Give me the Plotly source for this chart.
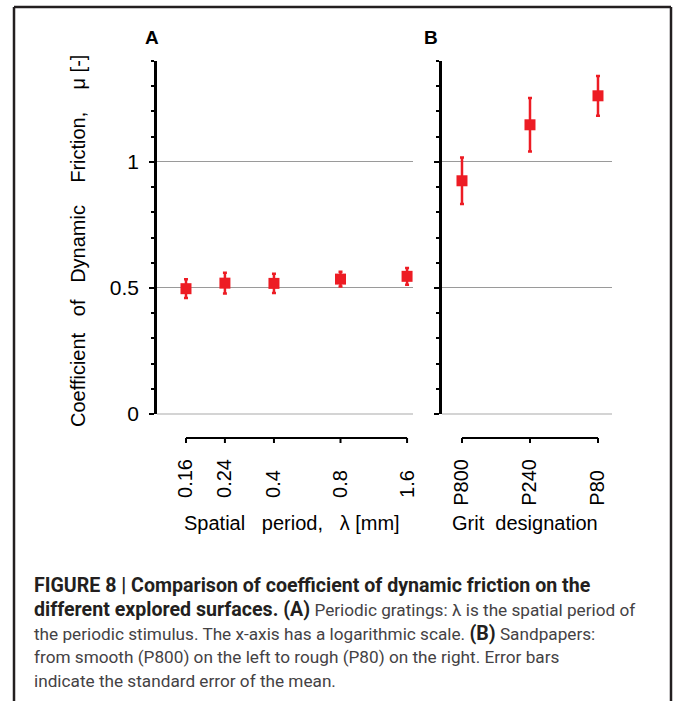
import plotly.graph_objects as go

# ---------------- data ----------------
spatial_period = [0.16, 0.24, 0.4, 0.8, 1.6]
spatial_labels = ["0.16", "0.24", "0.4", "0.8", "1.6"]
mu_gratings = [0.497, 0.519, 0.518, 0.535, 0.546]
se_gratings = [0.037, 0.041, 0.038, 0.029, 0.033]

grit_labels = ["P800", "P240", "P80"]
mu_sandpaper = [0.925, 1.147, 1.262]
se_sandpaper = [0.092, 0.106, 0.079]

y_ticks = [0, 0.5, 1]
y_tick_labels = ["0", "0.5", "1"]

# ---------------- geometry helpers (figure pixels -> paper) ----------------
W, H = 673, 701


def px(x):
    return x / W


def py(y):
    return 1 - y / H


RED = "#ed1c24"
INK = "#231f20"
FONT = "Arial, Liberation Sans, sans-serif"
NB = "\u00a0"


def pad(labels):
    # pad shorter rotated labels so they share a common end
    n = max(len(s) for s in labels)
    return [s + NB * (2 * (n - len(s))) for s in labels]


fig = go.Figure()

fig.add_trace(go.Scatter(
    x=spatial_period, y=mu_gratings, mode="markers",
    marker=dict(symbol="square", size=11, color=RED),
    error_y=dict(type="data", array=se_gratings, color=RED, thickness=2.5, width=2),
    xaxis="x", yaxis="y", showlegend=False, hoverinfo="x+y"))

fig.add_trace(go.Scatter(
    x=grit_labels, y=mu_sandpaper, mode="markers",
    marker=dict(symbol="square", size=11, color=RED),
    error_y=dict(type="data", array=se_sandpaper, color=RED, thickness=2.5, width=2),
    xaxis="x2", yaxis="y2", showlegend=False, hoverinfo="x+y"))

yax = dict(
    range=[0, 1.4], domain=[py(414), py(61)],
    tickvals=y_ticks, ticktext=y_tick_labels,
    ticks="outside", ticklen=5, tickwidth=2, tickcolor="black",
    minor=dict(dtick=0.1, ticks="outside", ticklen=3, tickwidth=2, tickcolor="black", showgrid=False),
    showline=True, linewidth=2.5, linecolor="black",
    showgrid=True, gridcolor="#9a9a9a", gridwidth=1,
    zeroline=True, zerolinecolor="#d4d4d4", zerolinewidth=1.5,
    automargin=False, fixedrange=True,
)

xtick_common = dict(
    tickangle=-90, ticks="outside", ticklen=36, tickcolor="rgba(0,0,0,0)",
    showline=False, showgrid=False, zeroline=False,
    tickfont=dict(family=FONT, size=20, color="black"),
    automargin=False, fixedrange=True,
)

fig.update_layout(
    width=W, height=H, template="none",
    margin=dict(l=0, r=0, t=0, b=0),
    paper_bgcolor="white", plot_bgcolor="white",
    xaxis=dict(type="log", range=[-0.927, 0.231], domain=[px(157), px(413)], anchor="y",
               tickvals=spatial_period, ticktext=pad(spatial_labels), **xtick_common),
    xaxis2=dict(type="category", range=[-0.294, 2.206], domain=[px(442), px(612)], anchor="y2",
                tickvals=grit_labels, ticktext=pad(grit_labels), **xtick_common),
    yaxis=dict(anchor="x", tickfont=dict(family=FONT, size=21, color="black"), ticklabelstandoff=6, **yax),
    yaxis2=dict(anchor="x2", showticklabels=False, **yax),
)

shapes = []
# detached x-axis lines with downward ticks
ax_y = py(438)
tick_y = py(443)
shapes.append(dict(type="line", xref="x", yref="paper", x0=spatial_period[0], x1=spatial_period[-1],
                   y0=ax_y, y1=ax_y, line=dict(color="black", width=2)))
for v in spatial_period:
    shapes.append(dict(type="line", xref="x", yref="paper", x0=v, x1=v, y0=ax_y, y1=tick_y,
                       line=dict(color="black", width=2)))
shapes.append(dict(type="line", xref="x2", yref="paper", x0=0, x1=len(grit_labels) - 1,
                   y0=ax_y, y1=ax_y, line=dict(color="black", width=2)))
for i in range(len(grit_labels)):
    shapes.append(dict(type="line", xref="x2", yref="paper", x0=i, x1=i, y0=ax_y, y1=tick_y,
                       line=dict(color="black", width=2)))
# figure frame (open at bottom)
frame = dict(color=INK, width=2.5)
shapes.append(dict(type="line", xref="paper", yref="paper", x0=px(14), x1=px(14), y0=py(701), y1=py(7), line=frame))
shapes.append(dict(type="line", xref="paper", yref="paper", x0=px(14), x1=px(671), y0=py(7), y1=py(7), line=frame))
shapes.append(dict(type="line", xref="paper", yref="paper", x0=px(671), x1=px(671), y0=py(7), y1=py(701), line=frame))
fig.update_layout(shapes=shapes)

ann = []


def label(text, x, y, size=20, bold=False, angle=0):
    return dict(text=f"<b>{text}</b>" if bold else text, x=px(x), y=py(y), xref="paper", yref="paper",
                showarrow=False, xanchor="center", yanchor="middle", textangle=angle,
                font=dict(family=FONT, size=size, color="black"))


ann.append(label("A", 152, 38, size=19, bold=True))
ann.append(label("B", 431, 38, size=19, bold=True))
ann.append(label(f"Coefficient{NB*3}of{NB*3}Dynamic{NB*4}Friction,{NB*4}μ [-]", 78, 241, angle=-90))
ann.append(label(f"Spatial{NB*3}period,{NB*3}λ [mm]", 292, 523))
ann.append(label(f"Grit{NB*2}designation", 525, 523))


def B(s):
    return f'<span style="font-size:19.6px;color:#231f20"><b>{s}</b></span>'


caption = [
    B("FIGURE 8 | Comparison of coefficient of dynamic friction on the"),
    B("different explored surfaces. (A)") + " Periodic gratings: λ is the spatial period of",
    "the periodic stimulus. The x-axis has a logarithmic scale. " + B("(B)") + " Sandpapers:",
    "from smooth (P800) on the left to rough (P80) on the right. Error bars",
    "indicate the standard error of the mean.",
]
centers = [585, 609, 633, 657, 681]
for line, c in zip(caption, centers):
    ann.append(dict(text=line, x=px(32), y=py(c), xref="paper", yref="paper", showarrow=False,
                    xanchor="left", yanchor="middle", align="left",
                    font=dict(family="Roboto, sans-serif", size=17.2, color="#444244")))
fig.update_layout(annotations=ann)

fig.write_html("out.html", config={"displayModeBar": False},
               post_script="document.body.style.margin='0';document.body.style.overflow='hidden';")
